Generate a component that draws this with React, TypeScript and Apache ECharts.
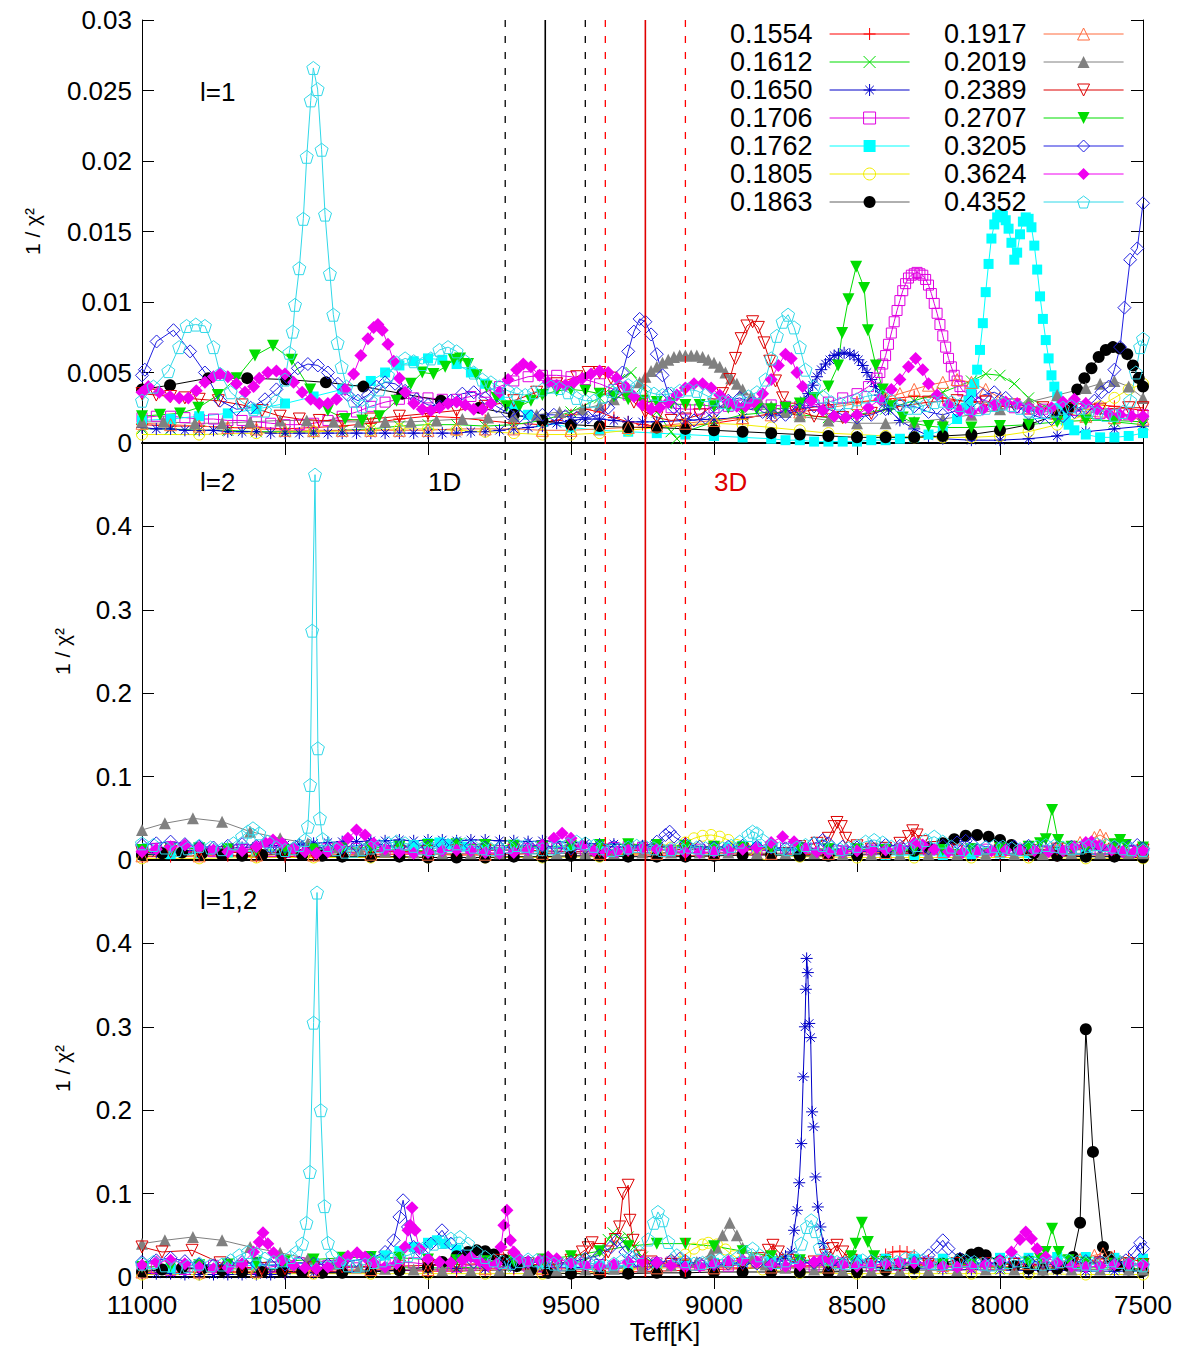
import { useEffect, useRef } from "react";
import * as echarts from "echarts";

// stellar masses (legend labels), in legend order
const masses = [
  "0.1554", "0.1612", "0.1650", "0.1706", "0.1762", "0.1805", "0.1863",
  "0.1917", "0.2019", "0.2389", "0.2707", "0.3205", "0.3624", "0.4352"
];

const colors = [
  "#ff0000", "#00dd00", "#0000c8", "#e000e0", "#00ffff", "#f2ee00", "#000000",
  "#ff6a3d", "#808080", "#dd0000", "#00dd00", "#2020e0", "#f000f0", "#30d8e8"
];

const plusPath = "path://M0,5L10,5M5,0L5,10";
const crossPath = "path://M0,0L10,10M10,0L0,10";
const starPath = "path://M0,5L10,5M5,0L5,10M1.5,1.5L8.5,8.5M8.5,1.5L1.5,8.5";
const triDownPath = "path://M0,0L10,0L5,8.66Z";
const pentagonPath = "path://M5,0L9.76,3.45L7.94,9.05L2.06,9.05L0.24,3.45Z";

const symbols = [
  plusPath, crossPath, starPath, "rect", "rect", "circle", "circle",
  "triangle", "triangle", triDownPath, triDownPath, "diamond", "diamond", pentagonPath
];
const hollow = [true, true, true, true, false, true, false, true, false, true, false, true, false, true];
const symbolSizes = [12, 11, 12, 10, 10, 11, 12, 12, 12, 12, 12, 13, 13, 13];

// ---- panel l=1 ----
const l1_1554 = [[11000,0.0013],[10900,0.0012],[10800,0.0012],[10700,0.0011],[10600,0.0011],[10500,0.0010],[10400,0.0011],[10300,0.0012],[10200,0.0014],[10100,0.0017],[10000,0.0019],[9900,0.0018],[9800,0.0016],[9700,0.0014],[9600,0.0013],[9550,0.0016],[9500,0.0020],[9450,0.0024],[9400,0.0022],[9350,0.0018],[9300,0.0015],[9250,0.0013],[9200,0.0012],[9100,0.0012],[9000,0.0014],[8900,0.0017],[8800,0.0021],[8700,0.0024],[8600,0.0027],[8500,0.0029],[8400,0.0031],[8300,0.0033],[8200,0.0032],[8100,0.0029],[8000,0.0026],[7900,0.0025],[7800,0.0027],[7700,0.0028],[7600,0.0026],[7500,0.0023]];
const l1_1612 = [[11000,0.0010],[10900,0.0010],[10800,0.0009],[10700,0.0009],[10600,0.0008],[10500,0.0008],[10400,0.0008],[10300,0.0009],[10200,0.0010],[10100,0.0012],[10000,0.0013],[9900,0.0013],[9800,0.0012],[9700,0.0013],[9600,0.0016],[9500,0.0022],[9400,0.0032],[9330,0.0045],[9290,0.0050],[9250,0.0040],[9200,0.0022],[9150,0.0008],[9130,0.0003],[9100,0.0008],[9000,0.0015],[8900,0.0020],[8800,0.0022],[8700,0.0020],[8600,0.0018],[8500,0.0020],[8400,0.0024],[8300,0.0030],[8200,0.0036],[8100,0.0044],[8050,0.0049],[8000,0.0048],[7950,0.0042],[7900,0.0032],[7800,0.0022],[7700,0.0018],[7600,0.0015],[7500,0.0013]];
const l1_1650 = [[11000,0.0011],[10950,0.0010],[10900,0.0010],[10850,0.0009],[10800,0.0009],[10750,0.0009],[10700,0.0008],[10650,0.0008],[10600,0.0008],[10550,0.0007],[10500,0.0007],[10450,0.0007],[10400,0.0007],[10350,0.0007],[10300,0.0007],[10250,0.0007],[10200,0.0007],[10150,0.0007],[10100,0.0007],[10050,0.0007],[10000,0.0007],[9950,0.0007],[9900,0.0007],[9850,0.0008],[9800,0.0008],[9750,0.0009],[9700,0.0010],[9650,0.0011],[9600,0.0012],[9550,0.0014],[9500,0.0016],[9450,0.0017],[9400,0.0017],[9350,0.0016],[9300,0.0015],[9250,0.0015],[9200,0.0015],[9100,0.0016],[9000,0.0017],[8900,0.0018],[8800,0.0020],[8750,0.0022],[8700,0.0025],[8685,0.0030],[8670,0.0035],[8655,0.0041],[8640,0.0047],[8625,0.0052],[8610,0.0056],[8595,0.0059],[8580,0.0062],[8565,0.0063],[8545,0.0064],[8525,0.0063],[8510,0.0062],[8495,0.0059],[8480,0.0055],[8465,0.0050],[8450,0.0045],[8435,0.0040],[8420,0.0034],[8405,0.0029],[8390,0.0024],[8350,0.0016],[8300,0.0010],[8250,0.0005],[8200,0.0003],[8100,0.0002],[8000,0.0002],[7900,0.0003],[7800,0.0005],[7700,0.0008],[7600,0.0010],[7500,0.0012]];
const l1_1706 = [[11000,0.0018],[10950,0.0019],[10900,0.0019],[10850,0.0018],[10800,0.0017],[10750,0.0017],[10700,0.0016],[10650,0.0016],[10600,0.0015],[10550,0.0014],[10500,0.0013],[10450,0.0013],[10400,0.0014],[10350,0.0016],[10300,0.0019],[10250,0.0022],[10200,0.0026],[10150,0.0029],[10100,0.0031],[10050,0.0032],[10000,0.0032],[9950,0.0031],[9900,0.0031],[9850,0.0033],[9800,0.0036],[9750,0.0040],[9700,0.0044],[9650,0.0047],[9600,0.0048],[9550,0.0048],[9500,0.0047],[9450,0.0045],[9400,0.0042],[9350,0.0038],[9300,0.0034],[9250,0.0030],[9200,0.0027],[9150,0.0025],[9100,0.0024],[9050,0.0024],[9000,0.0025],[8950,0.0026],[8900,0.0027],[8850,0.0027],[8800,0.0027],[8750,0.0026],[8700,0.0026],[8650,0.0027],[8600,0.0029],[8550,0.0032],[8500,0.0035],[8460,0.0040],[8430,0.0046],[8420,0.0050],[8410,0.0056],[8400,0.0062],[8390,0.0070],[8380,0.0078],[8370,0.0086],[8360,0.0094],[8350,0.0101],[8340,0.0108],[8330,0.0113],[8320,0.0117],[8310,0.0119],[8300,0.0120],[8290,0.0121],[8280,0.0120],[8270,0.0119],[8260,0.0116],[8250,0.0112],[8240,0.0106],[8230,0.0099],[8220,0.0092],[8210,0.0084],[8200,0.0076],[8190,0.0068],[8180,0.0060],[8170,0.0054],[8160,0.0048],[8150,0.0044],[8140,0.0040],[8130,0.0037],[8100,0.0034],[8050,0.0030],[8000,0.0027],[7950,0.0025],[7900,0.0024],[7850,0.0024],[7800,0.0024],[7750,0.0023],[7700,0.0022],[7650,0.0021],[7600,0.0020],[7550,0.0020],[7500,0.0020]];
const l1_1762 = [[11000,0.0016],[10900,0.0017],[10800,0.0019],[10700,0.0021],[10600,0.0024],[10500,0.0028],[10400,0.0033],[10300,0.0038],[10200,0.0044],[10150,0.0050],[10100,0.0055],[10050,0.0058],[10000,0.0060],[9950,0.0059],[9900,0.0056],[9850,0.0050],[9800,0.0042],[9750,0.0034],[9700,0.0026],[9650,0.0020],[9600,0.0015],[9500,0.0011],[9400,0.0009],[9300,0.0008],[9200,0.0007],[9100,0.0006],[9000,0.0005],[8900,0.0004],[8800,0.0003],[8750,0.0002],[8700,0.0002],[8650,0.0001],[8600,0.0001],[8550,0.0001],[8500,0.0001],[8450,0.0002],[8400,0.0002],[8350,0.0003],[8300,0.0004],[8250,0.0006],[8200,0.0009],[8150,0.0017],[8120,0.0025],[8110,0.0030],[8100,0.0036],[8090,0.0042],[8080,0.0052],[8070,0.0066],[8060,0.0085],[8050,0.0107],[8040,0.0127],[8030,0.0145],[8020,0.0155],[8010,0.0160],[8000,0.0162],[7990,0.0161],[7980,0.0158],[7970,0.0152],[7960,0.0142],[7950,0.0130],[7940,0.0135],[7930,0.0148],[7920,0.0157],[7910,0.0160],[7900,0.0159],[7890,0.0153],[7880,0.0140],[7870,0.0123],[7860,0.0104],[7850,0.0088],[7840,0.0073],[7830,0.0060],[7820,0.0048],[7810,0.0040],[7800,0.0033],[7790,0.0025],[7780,0.0020],[7770,0.0016],[7760,0.0013],[7740,0.0009],[7700,0.0006],[7650,0.0004],[7600,0.0004],[7550,0.0005],[7500,0.0007]];
const l1_1805 = [[11000,0.0006],[10800,0.0006],[10600,0.0007],[10400,0.0008],[10200,0.0009],[10100,0.0010],[10000,0.0010],[9900,0.0009],[9800,0.0008],[9700,0.0007],[9600,0.0006],[9500,0.0006],[9400,0.0007],[9300,0.0009],[9200,0.0011],[9100,0.0013],[9000,0.0014],[8900,0.0013],[8800,0.0011],[8700,0.0009],[8600,0.0007],[8500,0.0006],[8400,0.0005],[8300,0.0004],[8200,0.0004],[8100,0.0004],[8000,0.0005],[7900,0.0008],[7800,0.0013],[7700,0.0020],[7650,0.0026],[7600,0.0032],[7550,0.0038],[7500,0.0042]];
const l1_1863 = [[11000,0.0038],[10902,0.0041],[10768,0.0046],[10632,0.0046],[10495,0.0045],[10357,0.0043],[10226,0.0040],[10090,0.0035],[9955,0.0030],[9820,0.0025],[9700,0.0020],[9600,0.0016],[9500,0.0013],[9400,0.0012],[9300,0.0011],[9200,0.0011],[9100,0.0010],[9000,0.0009],[8900,0.0008],[8800,0.0007],[8700,0.0006],[8600,0.0005],[8500,0.0004],[8400,0.0004],[8300,0.0004],[8200,0.0005],[8100,0.0006],[8000,0.0009],[7900,0.0013],[7800,0.0020],[7760,0.0025],[7730,0.0038],[7705,0.0046],[7680,0.0053],[7655,0.0061],[7630,0.0066],[7605,0.0068],[7580,0.0067],[7555,0.0063],[7535,0.0055],[7515,0.0046],[7500,0.0040]];
const l1_1917 = [[11000,0.0014],[10900,0.0013],[10800,0.0012],[10700,0.0011],[10600,0.0010],[10500,0.0009],[10400,0.0009],[10300,0.0009],[10200,0.0009],[10100,0.0009],[10000,0.0009],[9900,0.0010],[9800,0.0010],[9700,0.0010],[9600,0.0009],[9500,0.0009],[9400,0.0010],[9300,0.0011],[9200,0.0012],[9100,0.0014],[9000,0.0016],[8900,0.0018],[8800,0.0020],[8700,0.0022],[8600,0.0025],[8500,0.0028],[8400,0.0032],[8350,0.0035],[8300,0.0038],[8250,0.0041],[8200,0.0043],[8150,0.0045],[8100,0.0043],[8050,0.0038],[8000,0.0032],[7900,0.0025],[7800,0.0021],[7700,0.0019],[7600,0.0018],[7500,0.0017]];
const l1_2019 = [[11000,0.0015],[10925,0.0015],[10815,0.0014],[10720,0.0014],[10622,0.0015],[10517,0.0016],[10424,0.0016],[10330,0.0015],[10240,0.0015],[10150,0.0015],[10060,0.0015],[9970,0.0016],[9880,0.0017],[9790,0.0018],[9700,0.0019],[9620,0.0020],[9540,0.0022],[9460,0.0024],[9400,0.0027],[9350,0.0031],[9300,0.0037],[9260,0.0043],[9240,0.0047],[9220,0.0051],[9200,0.0054],[9180,0.0057],[9160,0.0059],[9140,0.0061],[9120,0.0062],[9100,0.0062],[9080,0.0062],[9060,0.0062],[9040,0.0061],[9020,0.0059],[9000,0.0057],[8980,0.0054],[8960,0.0050],[8940,0.0046],[8920,0.0042],[8900,0.0038],[8870,0.0033],[8840,0.0029],[8800,0.0026],[8750,0.0022],[8700,0.0019],[8600,0.0016],[8500,0.0014],[8400,0.0014],[8300,0.0015],[8200,0.0017],[8100,0.0020],[8000,0.0024],[7900,0.0029],[7800,0.0034],[7700,0.0039],[7650,0.0042],[7600,0.0044],[7550,0.0040],[7500,0.0032]];
const l1_2389 = [[11000,0.0035],[10950,0.0034],[10900,0.0033],[10850,0.0032],[10800,0.0031],[10733,0.0030],[10650,0.0027],[10580,0.0023],[10517,0.0019],[10450,0.0017],[10380,0.0016],[10300,0.0016],[10200,0.0017],[10100,0.0019],[10000,0.0021],[9900,0.0023],[9800,0.0026],[9700,0.0030],[9620,0.0036],[9550,0.0042],[9480,0.0047],[9440,0.0050],[9400,0.0050],[9360,0.0046],[9320,0.0038],[9280,0.0029],[9240,0.0022],[9200,0.0018],[9150,0.0016],[9100,0.0017],[9050,0.0020],[9000,0.0027],[8970,0.0035],[8945,0.0045],[8925,0.0060],[8905,0.0074],[8885,0.0083],[8865,0.0086],[8845,0.0082],[8825,0.0071],[8805,0.0058],[8785,0.0044],[8760,0.0032],[8720,0.0024],[8650,0.0019],[8550,0.0018],[8450,0.0021],[8350,0.0026],[8250,0.0029],[8150,0.0030],[8050,0.0029],[7950,0.0027],[7850,0.0025],[7750,0.0024],[7650,0.0024],[7550,0.0025],[7500,0.0025]];
const l1_2707 = [[11000,0.0019],[10937,0.0020],[10867,0.0021],[10803,0.0025],[10735,0.0034],[10669,0.0046],[10605,0.0062],[10542,0.0069],[10476,0.0059],[10412,0.0038],[10350,0.0023],[10290,0.0017],[10230,0.0016],[10170,0.0019],[10110,0.0030],[10060,0.0042],[10020,0.0050],[9981,0.0049],[9940,0.0054],[9910,0.0059],[9888,0.0060],[9860,0.0056],[9830,0.0048],[9795,0.0040],[9760,0.0032],[9725,0.0026],[9680,0.0026],[9640,0.0030],[9600,0.0034],[9550,0.0037],[9500,0.0038],[9450,0.0037],[9400,0.0035],[9350,0.0033],[9300,0.0031],[9250,0.0030],[9200,0.0029],[9150,0.0028],[9100,0.0027],[9050,0.0027],[9000,0.0026],[8950,0.0025],[8900,0.0024],[8850,0.0024],[8800,0.0024],[8750,0.0025],[8700,0.0028],[8650,0.0032],[8600,0.0040],[8566,0.0055],[8552,0.0078],[8530,0.0102],[8503,0.0125],[8475,0.0110],[8462,0.0080],[8434,0.0055],[8410,0.0038],[8380,0.0026],[8340,0.0018],[8300,0.0014],[8250,0.0012],[8200,0.0011],[8100,0.0011],[8000,0.0012],[7900,0.0013],[7800,0.0015],[7700,0.0016],[7600,0.0016],[7500,0.0015]];
const l1_3205 = [[11000,0.0048],[10990,0.0052],[10949,0.0072],[10890,0.0080],[10832,0.0065],[10780,0.0050],[10727,0.0030],[10670,0.0024],[10620,0.0025],[10570,0.0031],[10530,0.0038],[10490,0.0046],[10455,0.0053],[10420,0.0056],[10385,0.0055],[10350,0.0050],[10315,0.0042],[10280,0.0034],[10245,0.0030],[10210,0.0034],[10180,0.0040],[10150,0.0043],[10115,0.0042],[10080,0.0037],[10040,0.0031],[10000,0.0027],[9960,0.0026],[9920,0.0030],[9880,0.0035],[9840,0.0036],[9800,0.0032],[9760,0.0026],[9720,0.0021],[9680,0.0019],[9640,0.0019],[9600,0.0020],[9560,0.0020],[9520,0.0019],[9480,0.0018],[9440,0.0018],[9400,0.0020],[9370,0.0025],[9345,0.0035],[9320,0.0050],[9300,0.0065],[9280,0.0079],[9260,0.0088],[9240,0.0086],[9220,0.0077],[9200,0.0063],[9180,0.0048],[9160,0.0035],[9140,0.0025],[9110,0.0018],[9070,0.0016],[9030,0.0018],[8990,0.0024],[8950,0.0030],[8910,0.0032],[8870,0.0028],[8830,0.0022],[8790,0.0019],[8750,0.0020],[8700,0.0024],[8650,0.0026],[8600,0.0024],[8550,0.0020],[8500,0.0018],[8450,0.0020],[8400,0.0024],[8350,0.0027],[8300,0.0026],[8250,0.0022],[8200,0.0020],[8150,0.0023],[8100,0.0029],[8060,0.0034],[8020,0.0036],[7980,0.0032],[7940,0.0026],[7900,0.0021],[7860,0.0018],[7820,0.0017],[7780,0.0019],[7740,0.0022],[7700,0.0025],[7670,0.0030],[7645,0.0036],[7620,0.0040],[7600,0.0052],[7580,0.0068],[7565,0.0096],[7545,0.0130],[7520,0.0138],[7500,0.0170]];
const l1_3624 = [[11000,0.0036],[10978,0.0040],[10940,0.0036],[10902,0.0033],[10870,0.0032],[10838,0.0032],[10810,0.0037],[10780,0.0043],[10750,0.0047],[10727,0.0049],[10700,0.0047],[10670,0.0042],[10640,0.0036],[10610,0.0040],[10590,0.0046],[10560,0.0050],[10530,0.0051],[10500,0.0049],[10470,0.0043],[10440,0.0036],[10410,0.0031],[10380,0.0028],[10350,0.0028],[10320,0.0031],[10290,0.0038],[10260,0.0049],[10235,0.0062],[10210,0.0074],[10190,0.0082],[10175,0.0084],[10160,0.0080],[10140,0.0070],[10120,0.0058],[10100,0.0046],[10080,0.0036],[10050,0.0028],[10020,0.0024],[9990,0.0023],[9960,0.0025],[9930,0.0028],[9900,0.0029],[9870,0.0027],[9840,0.0024],[9810,0.0024],[9780,0.0028],[9750,0.0036],[9720,0.0045],[9690,0.0052],[9667,0.0056],[9640,0.0054],[9610,0.0048],[9580,0.0043],[9550,0.0041],[9520,0.0041],[9490,0.0043],[9460,0.0046],[9430,0.0049],[9400,0.0051],[9370,0.0050],[9340,0.0046],[9310,0.0040],[9280,0.0033],[9250,0.0027],[9220,0.0024],[9190,0.0025],[9160,0.0029],[9130,0.0034],[9100,0.0039],[9070,0.0042],[9040,0.0042],[9010,0.0039],[8980,0.0034],[8950,0.0029],[8920,0.0026],[8890,0.0026],[8860,0.0029],[8830,0.0035],[8800,0.0045],[8775,0.0055],[8750,0.0063],[8730,0.0060],[8710,0.0050],[8690,0.0040],[8660,0.0030],[8620,0.0023],[8580,0.0019],[8540,0.0018],[8500,0.0020],[8460,0.0025],[8420,0.0031],[8380,0.0038],[8350,0.0045],[8320,0.0054],[8295,0.0060],[8270,0.0052],[8250,0.0042],[8220,0.0034],[8180,0.0027],[8140,0.0023],[8100,0.0022],[8060,0.0024],[8020,0.0027],[7980,0.0029],[7940,0.0028],[7900,0.0025],[7860,0.0023],[7820,0.0025],[7780,0.0029],[7740,0.0031],[7700,0.0028],[7660,0.0024],[7620,0.0021],[7580,0.0020],[7540,0.0019],[7500,0.0019]];
const l1_4352 = [[11000,0.0030],[10960,0.0040],[10908,0.0051],[10870,0.0068],[10844,0.0083],[10812,0.0084],[10780,0.0083],[10750,0.0068],[10727,0.0049],[10690,0.0036],[10650,0.0029],[10610,0.0024],[10570,0.0023],[10530,0.0030],[10500,0.0045],[10485,0.0064],[10473,0.0079],[10465,0.0098],[10450,0.0124],[10436,0.0159],[10424,0.0203],[10410,0.0243],[10401,0.0266],[10386,0.0251],[10372,0.0208],[10360,0.0162],[10343,0.0120],[10331,0.0091],[10316,0.0071],[10302,0.0054],[10285,0.0040],[10260,0.0030],[10230,0.0026],[10200,0.0030],[10170,0.0038],[10140,0.0048],[10110,0.0057],[10080,0.0060],[10050,0.0058],[10020,0.0056],[9990,0.0060],[9960,0.0066],[9930,0.0068],[9900,0.0065],[9870,0.0058],[9840,0.0050],[9810,0.0045],[9780,0.0043],[9750,0.0040],[9720,0.0037],[9690,0.0035],[9660,0.0034],[9630,0.0036],[9600,0.0038],[9570,0.0040],[9540,0.0039],[9510,0.0036],[9480,0.0032],[9450,0.0030],[9420,0.0030],[9390,0.0033],[9360,0.0037],[9330,0.0040],[9300,0.0041],[9270,0.0040],[9240,0.0037],[9210,0.0035],[9180,0.0034],[9150,0.0035],[9120,0.0037],[9090,0.0038],[9060,0.0037],[9030,0.0034],[9000,0.0031],[8970,0.0029],[8940,0.0028],[8910,0.0030],[8880,0.0033],[8850,0.0036],[8820,0.0045],[8800,0.0060],[8780,0.0076],[8760,0.0086],[8741,0.0091],[8720,0.0082],[8700,0.0068],[8680,0.0052],[8650,0.0040],[8620,0.0033],[8590,0.0029],[8560,0.0028],[8530,0.0029],[8500,0.0031],[8470,0.0033],[8440,0.0034],[8410,0.0033],[8380,0.0030],[8350,0.0027],[8320,0.0025],[8290,0.0025],[8260,0.0027],[8230,0.0029],[8200,0.0030],[8170,0.0029],[8140,0.0027],[8110,0.0025],[8080,0.0024],[8050,0.0025],[8020,0.0027],[7990,0.0028],[7960,0.0027],[7930,0.0025],[7900,0.0023],[7870,0.0022],[7840,0.0022],[7810,0.0023],[7780,0.0025],[7750,0.0026],[7720,0.0025],[7690,0.0023],[7660,0.0021],[7630,0.0020],[7600,0.0020],[7570,0.0022],[7545,0.0030],[7525,0.0050],[7510,0.0068],[7500,0.0074]];

// ---- panel l=2 ----
const l2_1554 = [[11000,0.004],[10900,0.004],[10800,0.005],[10700,0.005],[10600,0.004],[10500,0.004],[10400,0.005],[10300,0.006],[10200,0.006],[10100,0.007],[10000,0.007],[9900,0.006],[9800,0.006],[9700,0.007],[9600,0.008],[9500,0.008],[9400,0.007],[9300,0.006],[9200,0.006],[9100,0.005],[9000,0.005],[8900,0.006],[8800,0.007],[8700,0.007],[8600,0.006],[8500,0.006],[8400,0.007],[8300,0.008],[8200,0.007],[8100,0.006],[8000,0.006],[7900,0.005],[7800,0.005],[7700,0.006],[7600,0.006],[7500,0.005]];
const l2_1612 = [[11000,0.010],[10900,0.011],[10800,0.012],[10700,0.011],[10600,0.010],[10500,0.009],[10400,0.010],[10300,0.012],[10200,0.013],[10100,0.012],[10000,0.011],[9900,0.012],[9800,0.014],[9700,0.015],[9600,0.014],[9500,0.013],[9400,0.012],[9300,0.013],[9200,0.015],[9100,0.016],[9000,0.014],[8900,0.012],[8800,0.011],[8700,0.012],[8600,0.013],[8500,0.012],[8400,0.011],[8300,0.012],[8200,0.013],[8100,0.012],[8000,0.011],[7900,0.012],[7800,0.013],[7700,0.012],[7600,0.011],[7500,0.010]];
const l2_1650 = [[11000,0.008],[10950,0.009],[10900,0.010],[10850,0.011],[10800,0.012],[10750,0.013],[10700,0.014],[10650,0.015],[10600,0.016],[10550,0.017],[10500,0.018],[10450,0.019],[10400,0.020],[10350,0.021],[10300,0.022],[10250,0.022],[10200,0.023],[10150,0.023],[10100,0.024],[10050,0.023],[10000,0.024],[9950,0.024],[9900,0.023],[9850,0.024],[9800,0.024],[9750,0.023],[9700,0.023],[9650,0.022],[9600,0.023],[9550,0.022],[9500,0.021],[9450,0.020],[9400,0.019],[9350,0.019],[9300,0.018],[9250,0.017],[9200,0.016],[9100,0.015],[9000,0.014],[8900,0.013],[8800,0.012],[8700,0.012],[8600,0.011],[8500,0.010],[8400,0.010],[8300,0.009],[8200,0.009],[8100,0.008],[8000,0.008],[7900,0.008],[7800,0.007],[7700,0.007],[7600,0.007],[7500,0.007]];
const l2_1706 = [[11000,0.012],[10950,0.014],[10900,0.016],[10850,0.015],[10800,0.012],[10750,0.010],[10700,0.011],[10650,0.013],[10600,0.012],[10550,0.010],[10500,0.009],[10450,0.010],[10400,0.012],[10350,0.014],[10300,0.015],[10250,0.014],[10200,0.012],[10150,0.011],[10100,0.012],[10050,0.014],[10000,0.016],[9950,0.017],[9900,0.016],[9850,0.014],[9800,0.012],[9750,0.011],[9700,0.012],[9650,0.014],[9600,0.015],[9550,0.014],[9500,0.013],[9450,0.012],[9400,0.013],[9350,0.015],[9300,0.016],[9250,0.015],[9200,0.013],[9150,0.012],[9100,0.012],[9050,0.013],[9000,0.014],[8950,0.013],[8900,0.012],[8850,0.011],[8800,0.012],[8750,0.014],[8700,0.015],[8650,0.014],[8600,0.012],[8550,0.011],[8500,0.011],[8450,0.012],[8400,0.013],[8350,0.014],[8300,0.013],[8250,0.012],[8200,0.011],[8150,0.011],[8100,0.012],[8050,0.013],[8000,0.013],[7950,0.012],[7900,0.011],[7850,0.011],[7800,0.012],[7750,0.013],[7700,0.013],[7650,0.012],[7600,0.011],[7550,0.011],[7500,0.010]];
const l2_1762 = [[11000,0.006],[10900,0.007],[10800,0.008],[10700,0.009],[10600,0.010],[10500,0.011],[10400,0.012],[10300,0.013],[10200,0.014],[10100,0.016],[10050,0.018],[10000,0.020],[9960,0.021],[9920,0.019],[9880,0.016],[9800,0.013],[9700,0.011],[9600,0.010],[9500,0.010],[9400,0.011],[9300,0.012],[9200,0.013],[9100,0.013],[9000,0.012],[8950,0.015],[8900,0.017],[8850,0.016],[8800,0.013],[8700,0.010],[8600,0.008],[8500,0.007],[8400,0.006],[8300,0.006],[8200,0.006],[8100,0.007],[8000,0.008],[7900,0.008],[7800,0.008],[7700,0.007],[7600,0.007],[7500,0.006]];
const l2_1805 = [[11000,0.002],[10800,0.002],[10600,0.003],[10400,0.003],[10200,0.003],[10000,0.003],[9800,0.003],[9600,0.003],[9400,0.004],[9300,0.006],[9200,0.010],[9150,0.015],[9100,0.021],[9070,0.026],[9040,0.029],[9010,0.030],[8980,0.028],[8950,0.024],[8920,0.018],[8880,0.012],[8820,0.007],[8700,0.004],[8500,0.003],[8300,0.003],[8100,0.003],[7900,0.003],[7700,0.002],[7500,0.002]];
const l2_1863 = [[11000,0.006],[10930,0.008],[10860,0.009],[10790,0.008],[10720,0.006],[10650,0.005],[10580,0.006],[10510,0.007],[10440,0.006],[10370,0.005],[10300,0.004],[10200,0.004],[10100,0.004],[10000,0.003],[9900,0.003],[9800,0.003],[9700,0.004],[9600,0.004],[9500,0.005],[9400,0.005],[9300,0.004],[9200,0.004],[9100,0.004],[9000,0.005],[8900,0.006],[8800,0.006],[8700,0.005],[8600,0.005],[8500,0.006],[8400,0.008],[8300,0.011],[8250,0.015],[8200,0.020],[8160,0.025],[8120,0.029],[8080,0.030],[8040,0.028],[8000,0.024],[7960,0.018],[7920,0.012],[7880,0.008],[7800,0.005],[7700,0.004],[7600,0.004],[7500,0.003]];
const l2_1917 = [[11000,0.005],[10800,0.005],[10600,0.006],[10400,0.006],[10200,0.007],[10000,0.007],[9800,0.007],[9600,0.008],[9400,0.008],[9200,0.008],[9000,0.008],[8800,0.008],[8600,0.008],[8400,0.009],[8200,0.010],[8000,0.011],[7900,0.013],[7800,0.016],[7720,0.021],[7670,0.027],[7650,0.030],[7630,0.026],[7600,0.019],[7560,0.013],[7500,0.010]];
const l2_2019 = [[11000,0.036],[10920,0.044],[10822,0.050],[10720,0.046],[10622,0.034],[10517,0.026],[10420,0.020],[10330,0.015],[10240,0.012],[10150,0.010],[10050,0.009],[9950,0.008],[9850,0.008],[9750,0.008],[9650,0.008],[9550,0.008],[9450,0.008],[9350,0.008],[9250,0.009],[9150,0.009],[9050,0.009],[8950,0.009],[8850,0.008],[8750,0.008],[8650,0.008],[8550,0.007],[8450,0.007],[8350,0.007],[8250,0.007],[8150,0.007],[8050,0.007],[7950,0.007],[7850,0.007],[7750,0.008],[7650,0.008],[7550,0.008],[7500,0.008]];
const l2_2389 = [[11000,0.009],[10900,0.010],[10800,0.010],[10700,0.009],[10600,0.009],[10500,0.008],[10400,0.008],[10300,0.009],[10200,0.010],[10100,0.010],[10000,0.010],[9900,0.011],[9800,0.012],[9700,0.012],[9600,0.011],[9500,0.010],[9400,0.010],[9300,0.011],[9200,0.012],[9100,0.013],[9000,0.013],[8900,0.013],[8800,0.014],[8700,0.016],[8640,0.020],[8600,0.026],[8580,0.040],[8570,0.045],[8555,0.040],[8540,0.026],[8500,0.017],[8450,0.013],[8400,0.014],[8350,0.020],[8320,0.028],[8305,0.035],[8290,0.030],[8270,0.022],[8230,0.015],[8150,0.012],[8000,0.011],[7900,0.012],[7800,0.013],[7700,0.014],[7600,0.013],[7500,0.012]];
const l2_2707 = [[11000,0.012],[10900,0.013],[10800,0.014],[10700,0.013],[10600,0.012],[10500,0.012],[10400,0.013],[10300,0.014],[10200,0.015],[10100,0.016],[10000,0.018],[9900,0.019],[9800,0.018],[9700,0.017],[9600,0.016],[9500,0.017],[9400,0.018],[9300,0.019],[9200,0.018],[9100,0.017],[9000,0.016],[8900,0.015],[8800,0.014],[8700,0.014],[8600,0.013],[8500,0.013],[8400,0.012],[8300,0.012],[8200,0.012],[8100,0.013],[8000,0.014],[7900,0.016],[7860,0.020],[7840,0.025],[7818,0.060],[7797,0.024],[7750,0.016],[7700,0.014],[7650,0.015],[7600,0.019],[7580,0.024],[7560,0.018],[7500,0.015]];
const l2_3205 = [[11000,0.018],[10950,0.020],[10900,0.022],[10850,0.019],[10800,0.016],[10750,0.015],[10700,0.017],[10650,0.019],[10600,0.017],[10550,0.015],[10500,0.016],[10450,0.018],[10400,0.016],[10350,0.014],[10300,0.015],[10250,0.017],[10200,0.019],[10150,0.018],[10100,0.016],[10050,0.015],[10000,0.016],[9950,0.018],[9900,0.019],[9850,0.017],[9800,0.015],[9750,0.014],[9700,0.016],[9650,0.018],[9600,0.017],[9550,0.015],[9500,0.014],[9450,0.015],[9400,0.017],[9350,0.016],[9300,0.015],[9250,0.016],[9200,0.022],[9170,0.030],[9155,0.034],[9140,0.028],[9100,0.019],[9050,0.016],[9000,0.015],[8950,0.016],[8900,0.017],[8850,0.016],[8800,0.015],[8750,0.014],[8700,0.016],[8650,0.020],[8620,0.024],[8600,0.020],[8550,0.016],[8500,0.015],[8450,0.016],[8400,0.018],[8350,0.017],[8300,0.015],[8250,0.014],[8200,0.017],[8150,0.021],[8120,0.023],[8100,0.020],[8050,0.016],[8000,0.015],[7950,0.016],[7900,0.017],[7850,0.016],[7800,0.015],[7750,0.016],[7700,0.017],[7650,0.016],[7600,0.015],[7550,0.016],[7520,0.018],[7500,0.014]];
const l2_3624 = [[11000,0.010],[10950,0.013],[10900,0.016],[10850,0.018],[10800,0.015],[10750,0.012],[10700,0.010],[10650,0.011],[10600,0.016],[10570,0.021],[10542,0.024],[10510,0.020],[10470,0.014],[10430,0.010],[10390,0.008],[10350,0.010],[10310,0.016],[10280,0.026],[10250,0.036],[10220,0.030],[10190,0.020],[10150,0.013],[10100,0.009],[10050,0.008],[10000,0.009],[9950,0.011],[9900,0.012],[9850,0.011],[9800,0.009],[9750,0.008],[9700,0.009],[9650,0.012],[9600,0.018],[9560,0.026],[9531,0.032],[9500,0.026],[9460,0.017],[9420,0.011],[9380,0.009],[9340,0.010],[9300,0.012],[9250,0.014],[9200,0.013],[9150,0.011],[9100,0.009],[9050,0.009],[9000,0.010],[8950,0.012],[8900,0.013],[8850,0.015],[8800,0.021],[8760,0.028],[8720,0.022],[8680,0.014],[8640,0.010],[8600,0.009],[8550,0.010],[8500,0.011],[8450,0.012],[8400,0.012],[8350,0.014],[8300,0.020],[8270,0.018],[8230,0.013],[8180,0.010],[8130,0.009],[8080,0.010],[8030,0.011],[7980,0.012],[7930,0.012],[7880,0.011],[7830,0.010],[7780,0.011],[7740,0.016],[7700,0.021],[7680,0.022],[7650,0.017],[7610,0.012],[7570,0.010],[7530,0.010],[7500,0.011]];
const l2_4352 = [[11000,0.020],[10960,0.018],[10920,0.015],[10880,0.012],[10840,0.014],[10800,0.017],[10760,0.015],[10720,0.013],[10680,0.020],[10650,0.028],[10630,0.034],[10612,0.038],[10590,0.032],[10560,0.022],[10530,0.015],[10500,0.012],[10470,0.014],[10450,0.018],[10430,0.024],[10420,0.040],[10412,0.090],[10405,0.275],[10395,0.462],[10385,0.134],[10378,0.050],[10368,0.025],[10350,0.018],[10320,0.013],[10290,0.010],[10260,0.011],[10230,0.013],[10200,0.015],[10170,0.017],[10140,0.020],[10110,0.022],[10080,0.020],[10050,0.017],[10020,0.014],[9990,0.013],[9960,0.015],[9930,0.018],[9900,0.020],[9870,0.019],[9840,0.016],[9810,0.014],[9780,0.013],[9750,0.014],[9720,0.016],[9690,0.018],[9660,0.017],[9630,0.015],[9600,0.013],[9570,0.014],[9540,0.016],[9510,0.019],[9480,0.022],[9450,0.020],[9420,0.017],[9390,0.014],[9360,0.012],[9330,0.013],[9300,0.015],[9270,0.017],[9240,0.016],[9210,0.014],[9180,0.012],[9150,0.013],[9120,0.015],[9090,0.016],[9060,0.015],[9030,0.014],[9000,0.013],[8970,0.014],[8940,0.017],[8910,0.022],[8880,0.030],[8865,0.034],[8850,0.032],[8830,0.024],[8800,0.017],[8770,0.014],[8740,0.013],[8710,0.015],[8680,0.018],[8650,0.020],[8620,0.018],[8590,0.015],[8560,0.013],[8530,0.014],[8500,0.017],[8470,0.022],[8440,0.024],[8410,0.021],[8380,0.016],[8350,0.013],[8320,0.014],[8290,0.018],[8260,0.024],[8230,0.028],[8200,0.022],[8170,0.016],[8140,0.013],[8110,0.012],[8080,0.013],[8050,0.015],[8020,0.017],[7990,0.016],[7960,0.014],[7930,0.013],[7900,0.014],[7870,0.016],[7840,0.018],[7810,0.017],[7780,0.015],[7750,0.014],[7720,0.015],[7690,0.017],[7660,0.019],[7630,0.018],[7600,0.016],[7570,0.014],[7540,0.013],[7500,0.012]];

// ---- panel l=1,2 ----
const l12_1554 = [[11000,0.005],[10900,0.005],[10800,0.006],[10700,0.006],[10600,0.005],[10500,0.005],[10400,0.006],[10300,0.007],[10200,0.008],[10100,0.008],[10000,0.007],[9900,0.007],[9800,0.008],[9700,0.009],[9600,0.008],[9500,0.007],[9400,0.006],[9300,0.006],[9200,0.007],[9100,0.008],[9000,0.009],[8900,0.010],[8800,0.012],[8700,0.013],[8600,0.015],[8500,0.018],[8450,0.022],[8400,0.027],[8375,0.030],[8350,0.031],[8325,0.030],[8300,0.026],[8250,0.020],[8200,0.016],[8100,0.013],[8000,0.012],[7900,0.013],[7800,0.015],[7700,0.018],[7650,0.022],[7600,0.025],[7550,0.022],[7500,0.018]];
const l12_1612 = [[11000,0.008],[10900,0.009],[10800,0.010],[10700,0.010],[10600,0.009],[10500,0.009],[10400,0.010],[10300,0.011],[10200,0.012],[10100,0.012],[10000,0.011],[9900,0.011],[9800,0.012],[9700,0.013],[9600,0.014],[9500,0.016],[9450,0.020],[9400,0.030],[9370,0.045],[9353,0.053],[9330,0.046],[9300,0.048],[9280,0.036],[9250,0.024],[9200,0.016],[9100,0.013],[9000,0.012],[8900,0.011],[8800,0.011],[8700,0.012],[8600,0.012],[8500,0.011],[8400,0.011],[8300,0.012],[8200,0.012],[8100,0.011],[8000,0.011],[7900,0.012],[7800,0.012],[7700,0.011],[7600,0.011],[7500,0.010]];
const l12_1650 = [[11000,0.004],[10950,0.004],[10900,0.004],[10850,0.003],[10800,0.003],[10750,0.003],[10700,0.003],[10650,0.003],[10600,0.003],[10550,0.003],[10500,0.004],[10400,0.005],[10300,0.006],[10200,0.007],[10100,0.008],[10000,0.009],[9900,0.010],[9800,0.010],[9700,0.011],[9600,0.011],[9500,0.011],[9400,0.012],[9300,0.012],[9200,0.013],[9100,0.013],[9000,0.014],[8900,0.015],[8850,0.017],[8800,0.019],[8770,0.022],[8750,0.025],[8730,0.030],[8720,0.056],[8710,0.080],[8702,0.113],[8695,0.160],[8688,0.240],[8682,0.300],[8679,0.345],[8676,0.382],[8672,0.365],[8667,0.304],[8662,0.287],[8657,0.198],[8652,0.180],[8645,0.120],[8637,0.084],[8628,0.060],[8618,0.040],[8605,0.025],[8590,0.018],[8560,0.014],[8500,0.012],[8400,0.011],[8300,0.010],[8200,0.009],[8100,0.009],[8000,0.008],[7900,0.008],[7800,0.008],[7700,0.007],[7600,0.007],[7500,0.007]];
const l12_1706 = [[11000,0.012],[10950,0.010],[10900,0.008],[10850,0.009],[10800,0.012],[10750,0.014],[10700,0.013],[10650,0.011],[10600,0.010],[10550,0.012],[10500,0.015],[10450,0.017],[10400,0.016],[10350,0.014],[10300,0.012],[10250,0.011],[10200,0.013],[10150,0.016],[10100,0.018],[10050,0.017],[10000,0.015],[9950,0.013],[9900,0.012],[9850,0.014],[9800,0.016],[9750,0.018],[9700,0.016],[9650,0.013],[9600,0.012],[9550,0.014],[9500,0.016],[9450,0.017],[9400,0.015],[9350,0.013],[9300,0.012],[9250,0.014],[9200,0.017],[9150,0.018],[9100,0.016],[9050,0.014],[9000,0.012],[8950,0.013],[8900,0.016],[8850,0.018],[8800,0.017],[8750,0.014],[8700,0.012],[8650,0.013],[8600,0.015],[8550,0.017],[8500,0.016],[8450,0.013],[8400,0.012],[8350,0.014],[8300,0.017],[8250,0.018],[8200,0.016],[8150,0.014],[8100,0.012],[8050,0.013],[8000,0.015],[7950,0.017],[7900,0.016],[7850,0.013],[7800,0.012],[7750,0.014],[7700,0.016],[7650,0.018],[7600,0.016],[7550,0.014],[7500,0.013]];
const l12_1762 = [[11000,0.010],[10900,0.011],[10800,0.012],[10700,0.013],[10600,0.014],[10500,0.015],[10400,0.017],[10300,0.019],[10200,0.022],[10150,0.026],[10100,0.031],[10050,0.036],[10000,0.041],[9969,0.044],[9940,0.040],[9900,0.033],[9850,0.026],[9800,0.020],[9700,0.016],[9600,0.014],[9500,0.013],[9400,0.013],[9300,0.014],[9200,0.015],[9100,0.016],[9000,0.017],[8900,0.018],[8800,0.019],[8700,0.020],[8600,0.021],[8500,0.021],[8400,0.022],[8300,0.022],[8200,0.022],[8100,0.023],[8000,0.023],[7900,0.023],[7800,0.024],[7700,0.024],[7600,0.023],[7500,0.022]];
const l12_1805 = [[11000,0.003],[10800,0.003],[10600,0.004],[10400,0.004],[10200,0.004],[10000,0.004],[9800,0.004],[9600,0.004],[9400,0.005],[9300,0.008],[9200,0.013],[9150,0.019],[9100,0.027],[9070,0.034],[9040,0.039],[9020,0.041],[8990,0.039],[8960,0.033],[8930,0.025],[8890,0.016],[8830,0.009],[8700,0.005],[8500,0.004],[8300,0.004],[8100,0.004],[7900,0.004],[7700,0.003],[7500,0.003]];
const l12_1863 = [[11000,0.006],[10930,0.009],[10860,0.011],[10790,0.010],[10720,0.008],[10650,0.006],[10580,0.006],[10510,0.007],[10440,0.006],[10370,0.005],[10300,0.005],[10200,0.006],[10100,0.008],[10000,0.012],[9950,0.018],[9900,0.025],[9860,0.030],[9830,0.032],[9800,0.031],[9770,0.027],[9730,0.020],[9690,0.013],[9640,0.008],[9580,0.005],[9500,0.004],[9400,0.004],[9300,0.004],[9200,0.005],[9100,0.005],[9000,0.006],[8900,0.006],[8800,0.006],[8700,0.006],[8600,0.006],[8500,0.007],[8400,0.008],[8300,0.011],[8200,0.016],[8140,0.022],[8100,0.027],[8075,0.029],[8050,0.026],[8000,0.019],[7950,0.013],[7900,0.010],[7850,0.009],[7800,0.010],[7760,0.013],[7745,0.024],[7720,0.065],[7700,0.297],[7675,0.150],[7640,0.036],[7620,0.024],[7590,0.014],[7550,0.009],[7500,0.007]];
const l12_1917 = [[11000,0.006],[10800,0.006],[10600,0.007],[10400,0.008],[10200,0.009],[10000,0.009],[9800,0.010],[9600,0.010],[9400,0.010],[9200,0.011],[9000,0.011],[8800,0.012],[8600,0.012],[8400,0.013],[8200,0.014],[8000,0.015],[7900,0.016],[7800,0.018],[7720,0.021],[7670,0.026],[7640,0.028],[7610,0.024],[7570,0.018],[7500,0.014]];
const l12_2019 = [[11000,0.040],[10920,0.044],[10822,0.048],[10720,0.044],[10622,0.036],[10517,0.029],[10420,0.022],[10330,0.016],[10240,0.012],[10150,0.010],[10050,0.009],[9950,0.008],[9850,0.008],[9750,0.008],[9650,0.008],[9550,0.008],[9450,0.009],[9350,0.010],[9250,0.012],[9150,0.014],[9060,0.018],[9010,0.028],[8990,0.035],[8970,0.050],[8945,0.065],[8920,0.050],[8900,0.035],[8870,0.024],[8820,0.015],[8750,0.011],[8650,0.009],[8550,0.008],[8450,0.008],[8350,0.008],[8250,0.008],[8150,0.008],[8050,0.009],[7950,0.009],[7850,0.009],[7750,0.009],[7650,0.009],[7550,0.009],[7500,0.009]];
const l12_2389 = [[11000,0.036],[10930,0.030],[10825,0.032],[10727,0.017],[10650,0.012],[10580,0.010],[10500,0.010],[10400,0.011],[10300,0.012],[10200,0.013],[10100,0.013],[10000,0.014],[9900,0.015],[9800,0.016],[9750,0.020],[9720,0.025],[9700,0.022],[9650,0.016],[9600,0.014],[9550,0.015],[9500,0.020],[9460,0.030],[9440,0.035],[9426,0.041],[9400,0.033],[9370,0.030],[9345,0.045],[9330,0.060],[9318,0.100],[9300,0.110],[9294,0.068],[9283,0.044],[9260,0.025],[9220,0.018],[9150,0.015],[9100,0.013],[9000,0.013],[8900,0.015],[8840,0.022],[8810,0.032],[8794,0.038],[8775,0.030],[8740,0.020],[8700,0.016],[8650,0.018],[8610,0.026],[8585,0.034],[8570,0.038],[8550,0.030],[8520,0.020],[8450,0.015],[8350,0.014],[8250,0.015],[8150,0.016],[8050,0.016],[7950,0.015],[7850,0.015],[7750,0.016],[7650,0.017],[7550,0.016],[7500,0.015]];
const l12_2707 = [[11000,0.012],[10900,0.013],[10800,0.014],[10700,0.015],[10600,0.017],[10500,0.019],[10400,0.021],[10300,0.023],[10200,0.024],[10100,0.023],[10000,0.021],[9900,0.020],[9800,0.019],[9700,0.019],[9600,0.021],[9500,0.025],[9400,0.031],[9300,0.037],[9200,0.040],[9100,0.040],[9000,0.037],[8900,0.031],[8800,0.025],[8700,0.020],[8600,0.018],[8520,0.025],[8505,0.040],[8483,0.065],[8462,0.042],[8440,0.025],[8400,0.018],[8300,0.016],[8200,0.015],[8100,0.015],[8000,0.016],[7900,0.018],[7860,0.022],[7840,0.030],[7818,0.058],[7795,0.030],[7760,0.020],[7700,0.017],[7600,0.016],[7500,0.015]];
const l12_3205 = [[11000,0.018],[10950,0.020],[10900,0.023],[10850,0.019],[10800,0.015],[10750,0.014],[10700,0.016],[10650,0.018],[10600,0.016],[10550,0.014],[10500,0.015],[10450,0.017],[10400,0.016],[10350,0.015],[10300,0.017],[10250,0.020],[10200,0.022],[10150,0.030],[10120,0.044],[10100,0.072],[10087,0.092],[10070,0.060],[10050,0.036],[10020,0.028],[9990,0.040],[9951,0.056],[9920,0.040],[9880,0.025],[9840,0.018],[9800,0.016],[9750,0.015],[9700,0.016],[9650,0.018],[9600,0.017],[9550,0.016],[9500,0.018],[9450,0.022],[9400,0.026],[9360,0.036],[9339,0.044],[9310,0.030],[9270,0.020],[9230,0.016],[9200,0.017],[9150,0.020],[9120,0.022],[9100,0.019],[9050,0.016],[9000,0.015],[8950,0.016],[8900,0.017],[8850,0.016],[8800,0.015],[8750,0.016],[8700,0.018],[8650,0.017],[8600,0.015],[8550,0.016],[8500,0.017],[8450,0.019],[8400,0.018],[8350,0.016],[8300,0.018],[8250,0.026],[8220,0.036],[8200,0.044],[8180,0.034],[8140,0.022],[8100,0.017],[8050,0.016],[8000,0.017],[7950,0.018],[7900,0.019],[7850,0.018],[7800,0.016],[7750,0.017],[7700,0.019],[7650,0.018],[7600,0.016],[7560,0.020],[7530,0.030],[7510,0.041],[7500,0.034]];
const l12_3624 = [[11000,0.014],[10950,0.018],[10900,0.020],[10850,0.016],[10800,0.012],[10750,0.010],[10700,0.011],[10650,0.016],[10610,0.030],[10590,0.042],[10577,0.053],[10560,0.040],[10540,0.029],[10510,0.020],[10470,0.014],[10430,0.011],[10390,0.010],[10350,0.012],[10310,0.018],[10280,0.025],[10248,0.029],[10220,0.024],[10190,0.017],[10150,0.012],[10110,0.016],[10080,0.036],[10070,0.056],[10062,0.062],[10056,0.083],[10045,0.056],[10030,0.034],[10000,0.022],[9960,0.018],[9920,0.017],[9880,0.020],[9850,0.024],[9820,0.019],[9790,0.014],[9760,0.016],[9745,0.036],[9735,0.062],[9724,0.080],[9712,0.044],[9700,0.030],[9680,0.022],[9650,0.018],[9610,0.020],[9580,0.024],[9550,0.022],[9500,0.017],[9450,0.014],[9400,0.013],[9350,0.015],[9300,0.018],[9250,0.019],[9200,0.017],[9150,0.014],[9100,0.012],[9050,0.013],[9000,0.016],[8950,0.019],[8900,0.020],[8850,0.018],[8800,0.015],[8750,0.013],[8700,0.014],[8650,0.018],[8620,0.022],[8590,0.019],[8550,0.015],[8500,0.013],[8450,0.014],[8400,0.016],[8350,0.018],[8300,0.017],[8250,0.015],[8200,0.013],[8150,0.012],[8100,0.013],[8050,0.015],[8000,0.020],[7960,0.030],[7930,0.045],[7910,0.054],[7890,0.046],[7870,0.034],[7840,0.024],[7800,0.017],[7750,0.013],[7700,0.012],[7650,0.013],[7600,0.015],[7550,0.016],[7500,0.015]];
const l12_4352 = [[11000,0.016],[10960,0.018],[10920,0.014],[10880,0.012],[10840,0.013],[10800,0.016],[10760,0.014],[10720,0.015],[10690,0.020],[10660,0.026],[10630,0.030],[10600,0.028],[10570,0.022],[10540,0.018],[10510,0.020],[10480,0.024],[10460,0.030],[10440,0.040],[10425,0.065],[10413,0.126],[10400,0.305],[10388,0.461],[10375,0.200],[10362,0.085],[10350,0.041],[10335,0.026],[10310,0.018],[10280,0.014],[10250,0.013],[10220,0.015],[10190,0.018],[10160,0.020],[10130,0.022],[10100,0.024],[10070,0.026],[10040,0.030],[10010,0.036],[9980,0.040],[9950,0.042],[9920,0.046],[9888,0.048],[9860,0.040],[9830,0.030],[9800,0.024],[9770,0.020],[9740,0.018],[9710,0.017],[9680,0.019],[9650,0.021],[9620,0.020],[9590,0.018],[9560,0.016],[9530,0.015],[9500,0.016],[9470,0.018],[9440,0.017],[9410,0.015],[9380,0.014],[9350,0.016],[9320,0.020],[9290,0.024],[9260,0.030],[9230,0.045],[9210,0.065],[9196,0.078],[9180,0.068],[9160,0.042],[9130,0.026],[9100,0.019],[9070,0.016],[9040,0.017],[9010,0.019],[8980,0.021],[8950,0.020],[8920,0.023],[8890,0.030],[8865,0.034],[8840,0.026],[8810,0.020],[8780,0.018],[8750,0.020],[8720,0.024],[8695,0.040],[8675,0.060],[8660,0.068],[8645,0.055],[8630,0.035],[8600,0.022],[8570,0.018],[8540,0.017],[8510,0.018],[8480,0.020],[8450,0.019],[8420,0.017],[8390,0.016],[8360,0.018],[8330,0.022],[8300,0.024],[8270,0.020],[8240,0.017],[8210,0.016],[8180,0.017],[8150,0.019],[8120,0.020],[8090,0.018],[8060,0.016],[8030,0.015],[8000,0.016],[7970,0.018],[7940,0.020],[7910,0.019],[7880,0.017],[7850,0.016],[7820,0.017],[7790,0.019],[7760,0.020],[7730,0.018],[7700,0.016],[7670,0.015],[7640,0.017],[7610,0.020],[7580,0.018],[7550,0.016],[7520,0.015],[7500,0.014]];

const panelL1 = [l1_1554, l1_1612, l1_1650, l1_1706, l1_1762, l1_1805, l1_1863, l1_1917, l1_2019, l1_2389, l1_2707, l1_3205, l1_3624, l1_4352];
const panelL2 = [l2_1554, l2_1612, l2_1650, l2_1706, l2_1762, l2_1805, l2_1863, l2_1917, l2_2019, l2_2389, l2_2707, l2_3205, l2_3624, l2_4352];
const panelL12 = [l12_1554, l12_1612, l12_1650, l12_1706, l12_1762, l12_1805, l12_1863, l12_1917, l12_2019, l12_2389, l12_2707, l12_3205, l12_3624, l12_4352];
const panels = [panelL1, panelL2, panelL12];

const panelYMax = [0.03, 0.5, 0.5];
const panelYStep = [0.005, 0.1, 0.1];
const panelLabels = ["l=1", "l=2", "l=1,2"];

// Teff of the 1D and 3D determinations with their error bars
const refLinesT = [9730, 9590, 9450, 9380, 9240, 9100];
const refLineColors = ["#000000", "#000000", "#000000", "#ff0000", "#e00000", "#ff0000"];
const refLineSolid = [false, true, false, false, true, false];

const FONT = "Liberation Sans, Arial, Helvetica, sans-serif";
const gridTops = [20, 443, 860];
const gridHeights = [423, 417, 417];

function App() {
  const ref = useRef<HTMLDivElement | null>(null);

  useEffect(() => {
    if (!ref.current) {
      return;
    }
    document.body.style.margin = "0";
    const chart = echarts.init(ref.current, undefined, { renderer: "svg" });

    const grid = gridTops.map((top, g) => ({ left: 142, width: 1001, top, height: gridHeights[g] }));

    const xAxis: any[] = [];
    const yAxis: any[] = [];
    panels.forEach((_, g) => {
      const base = {
        gridIndex: g,
        type: "value",
        min: 7500,
        max: 11000,
        interval: 500,
        inverse: true,
        splitLine: { show: false },
        axisTick: { inside: true, length: 12, lineStyle: { color: "#000", width: 1 } }
      };
      xAxis.push({
        ...base,
        position: "bottom",
        axisLine: { lineStyle: { color: "#000", width: 2 } },
        axisLabel: {
          show: g === 2,
          color: "#000",
          fontSize: 26,
          fontFamily: FONT,
          margin: 15,
          formatter: (v: number) => String(v)
        }
      });
      xAxis.push({
        ...base,
        position: "top",
        axisLine: { lineStyle: { color: "#000", width: 1 } },
        axisLabel: { show: false }
      });
      const yBase = {
        gridIndex: g,
        type: "value",
        min: 0,
        max: panelYMax[g],
        interval: panelYStep[g],
        splitLine: { show: false },
        axisLine: { show: true, lineStyle: { color: "#000", width: 1 } },
        axisTick: { inside: true, length: 12, lineStyle: { color: "#000", width: 1 } }
      };
      yAxis.push({
        ...yBase,
        position: "left",
        name: "1 / \u03c7\u00b2",
        nameLocation: "middle",
        nameGap: g === 0 ? 99 : 69,
        nameTextStyle: { fontSize: 21, fontFamily: FONT, color: "#000" },
        axisLabel: {
          color: "#000",
          fontSize: 26,
          fontFamily: FONT,
          margin: 10,
          formatter: (v: number) => (g > 0 && v > 0.45 ? "" : String(+v.toFixed(4)))
        }
      });
      yAxis.push({ ...yBase, position: "right", axisLabel: { show: false } });
    });

    const series: any[] = [];
    panels.forEach((panel, g) => {
      panel.forEach((data, i) => {
        series.push({
          name: masses[i],
          type: "line",
          xAxisIndex: 2 * g,
          yAxisIndex: 2 * g,
          data,
          symbol: symbols[i],
          symbolSize: symbolSizes[i],
          showAllSymbol: true,
          lineStyle: { color: colors[i], width: 1 },
          itemStyle: {
            color: hollow[i] ? "transparent" : colors[i],
            borderColor: colors[i],
            borderWidth: hollow[i] ? 1 : 0
          },
          emphasis: { disabled: true },
          z: 2
        });
      });
      refLinesT.forEach((t, k) => {
        series.push({
          type: "line",
          xAxisIndex: 2 * g,
          yAxisIndex: 2 * g,
          data: [[t, 0], [t, panelYMax[g]]],
          symbol: "none",
          silent: true,
          lineStyle: {
            color: refLineColors[k],
            width: refLineSolid[k] ? 1.6 : 1.3,
            type: refLineSolid[k] ? "solid" : [7, 9]
          },
          z: 4
        });
      });
    });

    const legendItem = (i: number) => ({
      name: masses[i],
      itemStyle: {
        color: hollow[i] ? "transparent" : colors[i],
        borderColor: colors[i],
        borderWidth: hollow[i] ? 1 : 0
      },
      lineStyle: { color: i === 6 ? "#606060" : colors[i], width: 1 }
    });
    const legendBase = {
      orient: "vertical",
      top: 20,
      align: "right",
      itemWidth: 80,
      itemHeight: 15,
      itemGap: 0,
      selectedMode: false,
      padding: 0,
      textStyle: { fontSize: 27, fontFamily: FONT, color: "#000", lineHeight: 28, padding: [0, 12, 0, 0] }
    };

    const texts = [
      { text: panelLabels[0], x: 200, y: 92, color: "#000" },
      { text: panelLabels[1], x: 200, y: 482, color: "#000" },
      { text: panelLabels[2], x: 200, y: 900, color: "#000" },
      { text: "1D", x: 428, y: 482, color: "#000" },
      { text: "3D", x: 714, y: 482, color: "#dd0000" }
    ];

    chart.setOption({
      animation: false,
      backgroundColor: "#ffffff",
      grid,
      xAxis,
      yAxis,
      legend: [
        { ...legendBase, left: 730, data: [0, 1, 2, 3, 4, 5, 6].map(legendItem) },
        { ...legendBase, left: 944, data: [7, 8, 9, 10, 11, 12, 13].map(legendItem) }
      ],
      graphic: [
        ...texts.map((t) => ({
          type: "text",
          x: t.x,
          y: t.y,
          z: 10,
          style: { text: t.text, fontSize: 26, fontFamily: FONT, fill: t.color, align: "left", verticalAlign: "middle" }
        })),
        {
          type: "text",
          x: 665,
          y: 1332,
          style: { text: "Teff[K]", fontSize: 25, fontFamily: FONT, fill: "#000", align: "center", verticalAlign: "middle" }
        }
      ],
      series
    });

    return () => {
      chart.dispose();
    };
  }, []);

  return <div ref={ref} style={{ width: 1200, height: 1350 }} />;
}

export default App;
